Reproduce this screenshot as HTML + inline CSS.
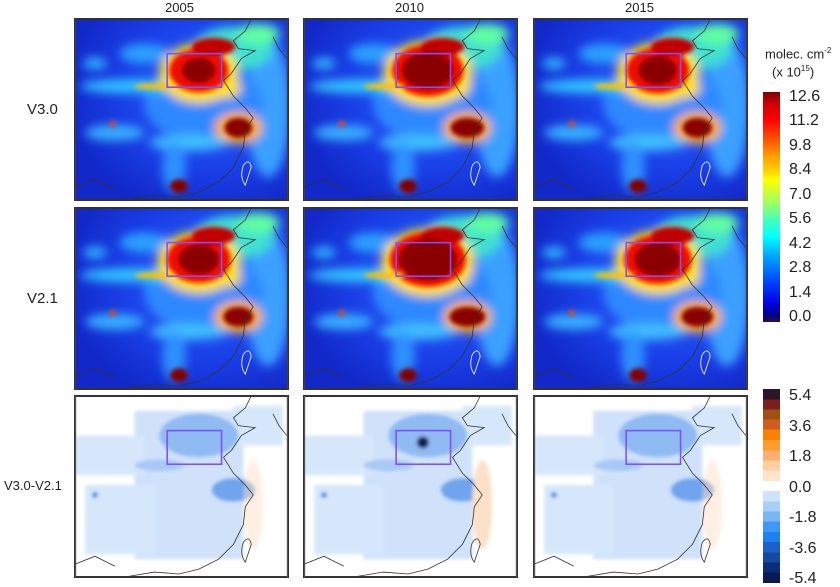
<!DOCTYPE html>
<html><head><meta charset="utf-8"><style>
body{margin:0;background:#fff;width:840px;height:586px;overflow:hidden;position:relative;font-family:"Liberation Sans",sans-serif;color:#222}
.p{position:absolute;border:1px solid #333;box-sizing:border-box}
.t{position:absolute;font-size:13px}
.r{position:absolute;font-size:15px}
.cl{position:absolute;left:789px;font-size:16px;line-height:16px;margin-top:-8px}
</style></head><body>
<div class="t" style="left:165px;top:0">2005</div>
<div class="t" style="left:395px;top:0">2010</div>
<div class="t" style="left:625px;top:0">2015</div>
<div class="r" style="left:27px;top:101px">V3.0</div>
<div class="r" style="left:27px;top:290px">V2.1</div>
<div class="r" style="left:4px;top:478px;font-size:13px">V3.0-V2.1</div>
<div id="maps"></div>
<div style="position:absolute;left:765px;top:46px;font-size:13px;white-space:nowrap">molec. cm<sup style="font-size:8px">-2</sup></div>
<div style="position:absolute;left:772px;top:64px;font-size:13px">(x 10<sup style="font-size:8px">15</sup>)</div>
<div style="position:absolute;left:763px;top:92px;width:17px;height:230px;background:linear-gradient(to bottom,#800000 0%,#c00 5%,#f00 12%,#ff6000 22%,#ffa000 28%,#ffd000 34%,#ff0 38%,#a0ff60 48%,#40ffc0 56%,#0ff 63%,#00a0ff 72%,#0040ff 83%,#0000e0 92%,#000090 97%,#301030 100%)"></div>
<div class="cl" style="top:97px">12.6</div><div class="cl" style="top:121px">11.2</div><div class="cl" style="top:146px">9.8</div><div class="cl" style="top:170px">8.4</div><div class="cl" style="top:195px">7.0</div><div class="cl" style="top:219px">5.6</div><div class="cl" style="top:244px">4.2</div><div class="cl" style="top:268px">2.8</div><div class="cl" style="top:293px">1.4</div><div class="cl" style="top:317px">0.0</div>
<div style="position:absolute;left:763px;top:389px;width:17px;height:194px;background:linear-gradient(to bottom,#2a1628 0 5.3%,#7a1e1e 5.3% 10.5%,#a05010 10.5% 15.8%,#cc5f20 15.8% 21%,#ff7f00 21% 26.3%,#ff9c30 26.3% 31.6%,#ffb070 31.6% 36.8%,#ffcfa0 36.8% 42.1%,#ffe4cc 42.1% 47.4%,#fff 47.4% 52.6%,#cfe4fb 52.6% 57.9%,#a8cff8 57.9% 63.2%,#7ab6f5 63.2% 68.4%,#3f98f5 68.4% 73.7%,#1e80f0 73.7% 78.9%,#1a62c8 78.9% 84.2%,#144aa0 84.2% 89.5%,#0c2e78 89.5% 94.7%,#081a50 94.7%)"></div>
<div class="cl" style="top:396px">5.4</div><div class="cl" style="top:427px">3.6</div><div class="cl" style="top:457px">1.8</div><div class="cl" style="top:488px">0.0</div><div class="cl" style="top:518px">-1.8</div><div class="cl" style="top:549px">-3.6</div><div class="cl" style="top:579px">-5.4</div>
<script>
var xs=[74,303,533],ys=[18,207,395],W=215,H=183;
var coast='M178 0 L172 12 L160 22 L165 30 L182 32 L168 40 L158 55 L150 62 L160 78 L172 90 L180 100 L172 112 L170 130 L160 150 L145 165 L125 175 L105 180 L80 178 L50 183 M200 18 L206 30 L214 40 M0 170 L20 162 L40 172';
var tw='M170 148 Q176 140 178 150 L172 168 Q166 160 170 148Z';
function conc(k,s){
 var r=s+''+Math.round(k*10);
 var h='<defs><filter id="b'+r+'"><feGaussianBlur stdDeviation="5"/></filter><filter id="c'+r+'"><feGaussianBlur stdDeviation="2.5"/></filter>'+
 '<radialGradient id="g'+r+'" cx="0.65" cy="0.4" r="0.7"><stop offset="0" stop-color="#2a6cff"/><stop offset="0.6" stop-color="#1a40e8"/><stop offset="1" stop-color="#1228c8"/></radialGradient></defs>';
 h+='<rect width="215" height="183" fill="url(#g'+r+')"/>';
 h+='<g filter="url(#b'+r+')">';
 h+='<ellipse cx="195" cy="90" rx="22" ry="70" fill="#3aa0ff"/>';
 h+='<ellipse cx="130" cy="85" rx="60" ry="40" fill="#2f88ff"/>';
 h+='<ellipse cx="60" cy="68" rx="55" ry="7" fill="#30c8ff"/>';
 h+='<ellipse cx="70" cy="35" rx="25" ry="10" fill="#2aa0ff"/>';
 h+='<ellipse cx="20" cy="45" rx="12" ry="6" fill="#30b0ff"/>';
 h+='<ellipse cx="160" cy="30" rx="40" ry="22" fill="#40e0d0"/>';
 h+='<ellipse cx="185" cy="15" rx="22" ry="10" fill="#60ffa0"/>';
 h+='<ellipse cx="125" cy="55" rx="'+(40+k*5)+'" ry="'+(30+k*3)+'" fill="#ffe000"/>';
 h+='<ellipse cx="150" cy="70" rx="18" ry="10" fill="#ffe000"/>';
 h+='<ellipse cx="165" cy="110" rx="24" ry="16" fill="#ffb000"/>';
 h+='<ellipse cx="40" cy="115" rx="30" ry="8" fill="#38b0ff"/>';
 h+='<ellipse cx="115" cy="125" rx="40" ry="8" fill="#40c0ff"/>';
 h+='<ellipse cx="100" cy="150" rx="12" ry="25" fill="#2f90ff"/>';
 h+='</g><g filter="url(#c'+r+')">';
 h+='<ellipse cx="125" cy="52" rx="'+(30+k*6)+'" ry="'+(22+k*4)+'" fill="#f01000"/>';
 h+='<ellipse cx="140" cy="28" rx="22" ry="9" fill="#c00000"/>';
 h+='<ellipse cx="125" cy="52" rx="'+(17+k*9)+'" ry="'+(13+k*6)+'" fill="#8a0000"/>';
 h+='<ellipse cx="165" cy="110" rx="'+(14+k*3)+'" ry="10" fill="#8a0000"/>';
 h+='<ellipse cx="105" cy="169" rx="9" ry="7" fill="#800000"/>';
 h+='<ellipse cx="80" cy="68" rx="20" ry="3" fill="#ffc000"/>';
 h+='<circle cx="38" cy="106" r="3" fill="#ff4000"/>';
 h+='</g>';
 return h;
}
function diff(k){
 var h='<defs><filter id="d'+k+'"><feGaussianBlur stdDeviation="2"/></filter></defs><rect width="215" height="183" fill="#fff"/><g filter="url(#d'+k+')">';
 h+='<rect x="60" y="15" width="110" height="150" fill="#cfe2fa"/>';
 h+='<rect x="0" y="40" width="70" height="40" fill="#d6e7fb"/>';
 h+='<rect x="10" y="90" width="70" height="70" fill="#d6e7fb"/>';
 h+='<rect x="160" y="10" width="50" height="40" fill="#d6e7fb"/>';
 h+='<ellipse cx="125" cy="40" rx="40" ry="22" fill="#8fbaf2"/>';
 h+='<ellipse cx="160" cy="95" rx="22" ry="12" fill="#6fa4ee"/>';
 h+='<ellipse cx="85" cy="70" rx="25" ry="6" fill="#a8c8f5"/>';
 h+='<ellipse cx="180" cy="110" rx="10" ry="45" fill="#fde0c8" opacity="'+(k==1?1:0.5)+'"/>';
 if(k==1)h+='<circle cx="120" cy="47" r="6" fill="#102050"/>';
 h+='<circle cx="20" cy="100" r="3" fill="#3c80e0"/></g>';
 return h;
}
var out='';
for(var i=0;i<3;i++)for(var j=0;j<3;j++){
 var k=[0,1,0.3][i];
 var body = j<2? conc(k+(j==1?0.4:0),j): diff(i);
 out+='<svg class="p" style="left:'+xs[i]+'px;top:'+ys[j]+'px" width="'+W+'" height="'+H+'" viewBox="0 0 215 183">'+body+
 '<path d="'+coast+'" fill="none" stroke="#333" stroke-width="0.8"/><path d="'+tw+'" fill="none" stroke="'+(j<2?'#fff':'#333')+'" stroke-width="0.8"/>'+
 '<rect x="93" y="35" width="55" height="34" fill="none" stroke="#8050ff" stroke-width="1.6"/>'+
 '<rect x="0.5" y="0.5" width="214" height="182" fill="none" stroke="#333"/></svg>';
}
document.getElementById('maps').innerHTML=out;
</script>
</body></html>
